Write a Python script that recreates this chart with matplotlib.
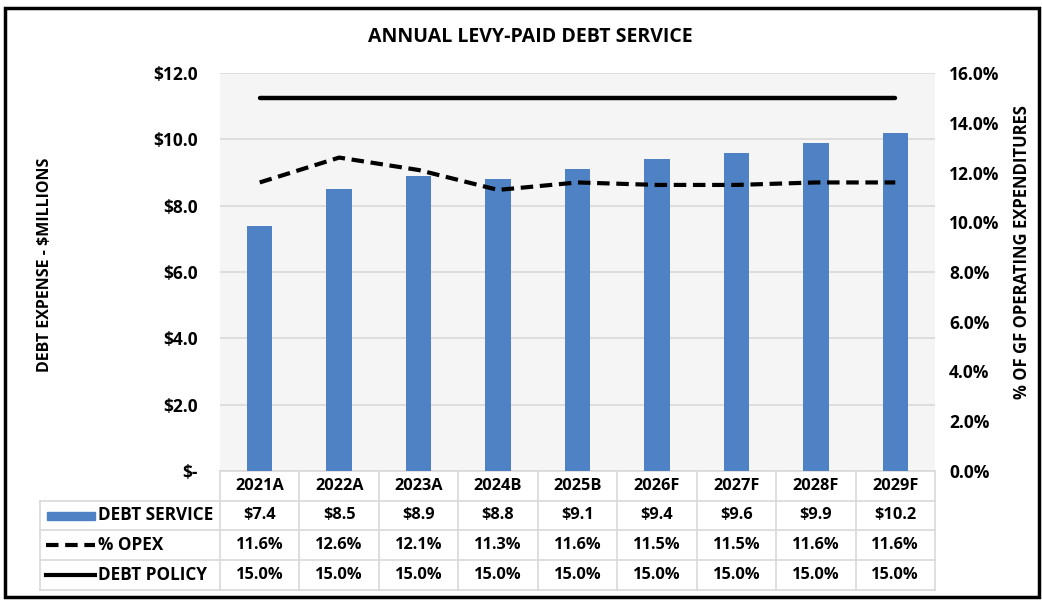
import numpy as np
import matplotlib.pyplot as plt
from matplotlib.transforms import blended_transform_factory
from matplotlib.patches import Rectangle
from matplotlib.lines import Line2D

plt.rcParams['font.family'] = ['Open Sans', 'DejaVu Sans']
plt.rcParams['font.weight'] = 'bold'

# datos
years = ['2021A', '2022A', '2023A', '2024B', '2025B', '2026F', '2027F', '2028F', '2029F']
debt_service = [7.4, 8.5, 8.9, 8.8, 9.1, 9.4, 9.6, 9.9, 10.2]
pct_opex = [11.6, 12.6, 12.1, 11.3, 11.6, 11.5, 11.5, 11.6, 11.6]
debt_policy = [15.0, 15.0, 15.0, 15.0, 15.0, 15.0, 15.0, 15.0, 15.0]
y_ticks = [0, 2, 4, 6, 8, 10, 12]
y_tick_labels = ['$-', '$2.0', '$4.0', '$6.0', '$8.0', '$10.0', '$12.0']
pct_ticks = [0, 2, 4, 6, 8, 10, 12, 14, 16]

bar_color = '#4f81c5'
grid_color = '#d9d9d9'
W, H = 1042, 600
FS = 11.8

fig = plt.figure(figsize=(10.42, 6), dpi=100)
ax = fig.add_axes([220 / W, 1 - 471 / H, 715 / W, 398 / H])
ax2 = ax.twinx()

x = np.arange(len(years))
ax.set_facecolor('#f5f5f5')
ax.bar(x, debt_service, width=0.32, color=bar_color, zorder=3)
ax.set_xlim(-0.5, len(years) - 0.5)
ax.set_ylim(0, 12)
ax.set_yticks(y_ticks)
ax.set_yticklabels(y_tick_labels)
ax.set_xticks([])
ax.yaxis.grid(True, color=grid_color, linewidth=1.2, zorder=0)
ax.set_axisbelow(True)
ax.tick_params(axis='y', length=0, pad=16, labelsize=12.5)
for s in ax.spines.values():
    s.set_visible(False)

ax2.plot(x, pct_opex, color='black', linewidth=3, linestyle=(0, (3, 1.6)), zorder=4)
ax2.plot(x, debt_policy, color='black', linewidth=3.2, solid_capstyle='round', zorder=4)
ax2.set_ylim(0, 16)
ax2.set_yticks(pct_ticks)
ax2.set_yticklabels([f'{t:.1f}%' for t in pct_ticks])
ax2.tick_params(axis='y', length=0, pad=10, labelsize=12.5)
for s in ax2.spines.values():
    s.set_visible(False)

ax.set_ylabel('DEBT EXPENSE - $MILLIONS', fontsize=11.5, fontweight='bold')
ax.yaxis.set_label_coords((53 - 220) / 715, (471 - 265) / 398)
ax2.set_ylabel('% OF GF OPERATING EXPENDITURES', fontsize=12, fontweight='bold',
               rotation=90)
ax2.yaxis.set_label_coords((1013 - 220) / 715, (471 - 252) / 398)

fig.text(530 / W, 1 - 37 / H, 'ANNUAL LEVY-PAID DEBT SERVICE', ha='center', va='center',
         fontsize=14, fontweight='bold')

# tabla de datos
def ya(px):
    return (471 - px) / 398

def xa(px):
    return (px - 220) / 715

rows_px = [471, 501, 530, 560, 590]
tb = blended_transform_factory(ax.transData, ax.transAxes)
lk = dict(color=grid_color, linewidth=1.2, transform=ax.transAxes, clip_on=False)

# lineas horizontales
ax.add_line(Line2D([0, 1], [ya(471), ya(471)], **lk))
for r in rows_px[1:]:
    ax.add_line(Line2D([xa(40), 1], [ya(r), ya(r)], **lk))
# lineas verticales
ax.add_line(Line2D([xa(40), xa(40)], [ya(501), ya(590)], **lk))
for i in range(len(years) + 1):
    xp = xa(220 + i * 715 / len(years))
    ax.add_line(Line2D([xp, xp], [ya(471), ya(590)], **lk))

row_vals = [years,
            [f'${v:.1f}' for v in debt_service],
            [f'{v:.1f}%' for v in pct_opex],
            [f'{v:.1f}%' for v in debt_policy]]
for r, vals in enumerate(row_vals):
    yc = ya((rows_px[r] + rows_px[r + 1]) / 2)
    for i, v in enumerate(vals):
        ax.text(i, yc, v, transform=tb, ha='center', va='center', fontsize=FS,
                fontweight='bold', clip_on=False)

labels = ['DEBT SERVICE', '% OPEX', 'DEBT POLICY']
for r, lab in enumerate(labels):
    yc = ya((rows_px[r + 1] + rows_px[r + 2]) / 2)
    ax.text(xa(98), yc, lab, transform=ax.transAxes, ha='left', va='center',
            fontsize=12.3, fontweight='bold', clip_on=False)
yc = ya(516)
ax.add_patch(Rectangle((xa(47), yc - 0.011), xa(95) - xa(47), 0.022, color=bar_color,
                       transform=ax.transAxes, clip_on=False))
yc = ya(545)
ax.add_line(Line2D([xa(46), xa(95)], [yc, yc], color='black', linewidth=3,
                   linestyle=(0, (3, 1.6)), transform=ax.transAxes, clip_on=False))
yc = ya(575)
ax.add_line(Line2D([xa(46), xa(95)], [yc, yc], color='black', linewidth=3,
                   transform=ax.transAxes, clip_on=False))

# borde exterior
fig.add_artist(Rectangle((5 / W, 3 / H), 1034 / W, 589 / H, fill=False,
                         edgecolor='black', linewidth=2.5, transform=fig.transFigure))

plt.savefig('out.png', dpi=100)
